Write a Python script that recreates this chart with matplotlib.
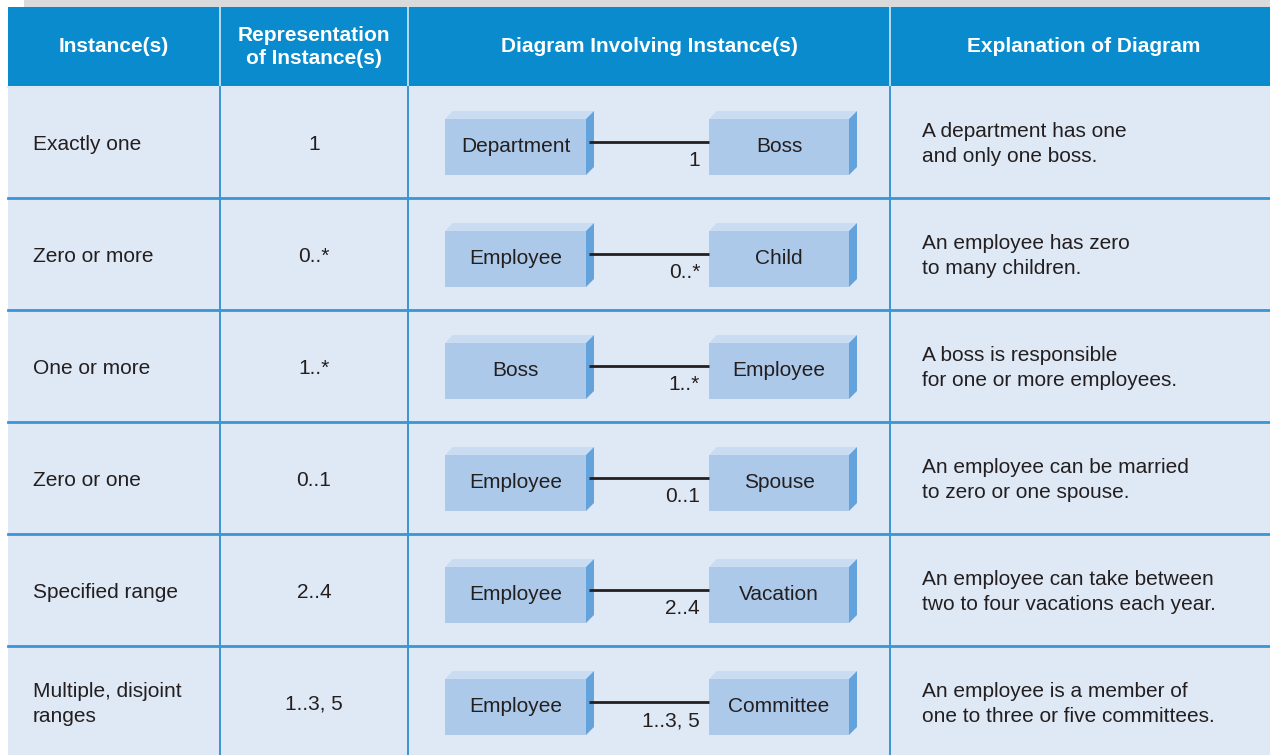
import matplotlib
matplotlib.use("Agg")
import matplotlib.pyplot as plt
from matplotlib.patches import Rectangle, Polygon

plt.rcParams['font.family'] = ['Liberation Sans', 'DejaVu Sans']

headers = ["Instance(s)", "Representation\nof Instance(s)",
           "Diagram Involving Instance(s)", "Explanation of Diagram"]
instances = ["Exactly one", "Zero or more", "One or more", "Zero or one",
             "Specified range", "Multiple, disjoint\nranges"]
representations = ["1", "0..*", "1..*", "0..1", "2..4", "1..3, 5"]
left_entities = ["Department", "Employee", "Boss", "Employee", "Employee", "Employee"]
right_entities = ["Boss", "Child", "Employee", "Spouse", "Vacation", "Committee"]
explanations = ["A department has one\nand only one boss.",
                "An employee has zero\nto many children.",
                "A boss is responsible\nfor one or more employees.",
                "An employee can be married\nto zero or one spouse.",
                "An employee can take between\ntwo to four vacations each year.",
                "An employee is a member of\none to three or five committees."]

W, H = 1270, 755
fig = plt.figure(figsize=(W / 100, H / 100), dpi=100)
ax = fig.add_axes([0, 0, 1, 1])
ax.set_xlim(0, W)
ax.set_ylim(H, 0)
ax.axis('off')

HEADER_BLUE = '#0A8BCD'
BODY = '#DFE9F5'
GRID = '#3A95D2'
TXT = '#231F20'
FRONT = '#ADC9EA'
TOP = '#C9DCF1'
SIDE = '#63A2DA'

col_x = [8, 220, 408, 890, W]
header_top, header_bot = 7, 86
row_h = 112

# top grey strip
ax.add_patch(Rectangle((24, 0), W - 24, header_top, color='#DADADA', lw=0))
# header
ax.add_patch(Rectangle((8, header_top), W - 8, header_bot - header_top, color=HEADER_BLUE, lw=0))
# body
ax.add_patch(Rectangle((8, header_bot + 1), W - 8, H - header_bot, color=BODY, lw=0))
ax.plot([8, W], [header_bot + 0.5, header_bot + 0.5], color='#D6E8F5', lw=1.2)

# vertical separators
for x in col_x[1:4]:
    ax.plot([x, x], [header_top, header_bot], color='#D6E8F5', lw=1.2)
    ax.plot([x, x], [header_bot + 1, H], color=GRID, lw=1.4)

# horizontal separators
n = len(instances)
for i in range(1, n):
    y = header_bot + i * row_h
    ax.plot([8, W], [y, y], color=GRID, lw=2.0)

# header text
for i, h in enumerate(headers):
    cx = (col_x[i] + col_x[i + 1]) / 2
    if i == 3:
        cx = 1084
    ax.text(cx, 47, h, color='white', fontsize=15, fontweight='bold',
            ha='center', va='center', linespacing=1.3)


def box(x0, y0, w, h, d, label):
    # front face
    ax.add_patch(Rectangle((x0, y0), w, h, color=FRONT, lw=0))
    # top face
    ax.add_patch(Polygon([(x0, y0), (x0 + d, y0 - d), (x0 + w + d, y0 - d), (x0 + w, y0)],
                         closed=True, color=TOP, lw=0))
    # side face
    ax.add_patch(Polygon([(x0 + w, y0), (x0 + w + d, y0 - d), (x0 + w + d, y0 + h - d), (x0 + w, y0 + h)],
                         closed=True, color=SIDE, lw=0))
    ax.text(x0 + w / 2, y0 + h / 2, label, color=TXT, fontsize=15,
            ha='center', va='center')


for i in range(n):
    top = header_bot + i * row_h
    cy = top + row_h / 2
    ax.text(33, cy + 2, instances[i], color=TXT, fontsize=15, ha='left', va='center',
            linespacing=1.4)
    ax.text(314, cy + 2, representations[i], color=TXT, fontsize=15, ha='center', va='center')
    ax.text(922, cy + 2, explanations[i], color=TXT, fontsize=15, ha='left', va='center',
            linespacing=1.4)
    fy = top + 33
    box(445, fy, 141, 56, 8, left_entities[i])
    box(709, fy, 140, 56, 8, right_entities[i])
    ly = fy + 23
    ax.plot([589, 709], [ly, ly], color=TXT, lw=2.0, solid_capstyle='butt')
    ax.text(700, ly + 19, representations[i], color=TXT, fontsize=15, ha='right', va='center')

fig.savefig('out.png', dpi=100)
